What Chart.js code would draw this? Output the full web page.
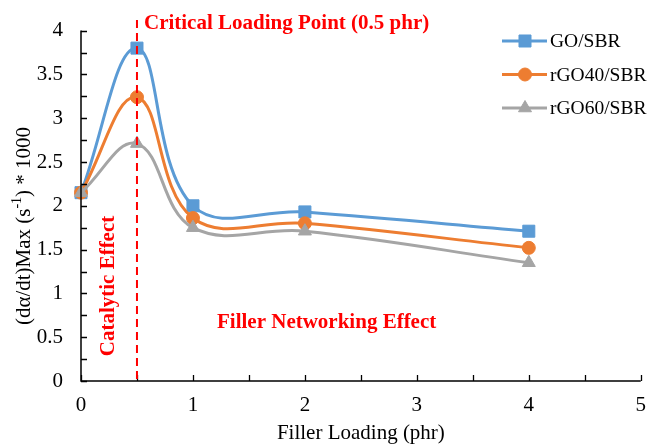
<!DOCTYPE html>
<html>
<head>
<meta charset="utf-8">
<script src="https://cdn.jsdelivr.net/npm/chart.js@4"></script>
<style>
  html, body { margin: 0; padding: 0; background: #fff; }
  canvas { display: block; }
</style>
</head>
<body>
<canvas id="chart" width="658" height="445"></canvas>
<script>
// filler loading (phr)
const loading = [0, 0.5, 1, 2, 4];

const goSbr = [2.15, 3.8, 2.0, 1.93, 1.71];
const rgo40Sbr = [2.15, 3.24, 1.86, 1.80, 1.52];
const rgo60Sbr = [2.15, 2.71, 1.75, 1.71, 1.35];

const xTicks = [0, 1, 2, 3, 4, 5];
const yTicks = [0, 0.5, 1, 1.5, 2, 2.5, 3, 3.5, 4];
const xMinor = [0.5, 1.5, 2.5, 3.5, 4.5];
const yMinor = [0.25, 0.75, 1.25, 1.75, 2.25, 2.75, 3.25, 3.75];

const criticalX = 0.5;

const RED = "#ff0000";
const SERIF = "'Liberation Serif', 'Times New Roman', serif";

function pts(ys) {
  return loading.map((x, i) => ({ x: x, y: ys[i] }));
}

// y title with superscript, pieces drawn one after another
function drawYTitle(ctx, cx, cy) {
  const parts = [
    { t: "(dα/dt)Max (s", f: "21px " + SERIF, dy: 0 },
    { t: "-1", f: "14px " + SERIF, dy: -7 },
    { t: ") * 1000", f: "21px " + SERIF, dy: 0 }
  ];
  let total = 0;
  parts.forEach(p => { ctx.font = p.f; p.w = ctx.measureText(p.t).width; total += p.w; });
  ctx.save();
  ctx.translate(cx, cy);
  ctx.rotate(-Math.PI / 2);
  ctx.fillStyle = "#000";
  ctx.textAlign = "left";
  ctx.textBaseline = "middle";
  let x = -total / 2;
  parts.forEach(p => {
    ctx.font = p.f;
    ctx.fillText(p.t, x, p.dy);
    x += p.w;
  });
  ctx.restore();
}

// axis lines, inward ticks, dashed marker line, red notes, legend
const extras = {
  id: "extras",
  afterDatasetsDraw(chart) {
    const ctx = chart.ctx;
    const xs = chart.scales.x;
    const ys = chart.scales.y;
    const area = chart.chartArea;
    ctx.save();

    // axes
    ctx.strokeStyle = "#000";
    ctx.lineWidth = 1.5;
    ctx.beginPath();
    ctx.moveTo(area.left, area.top);
    ctx.lineTo(area.left, area.bottom);
    ctx.lineTo(area.right, area.bottom);
    ctx.stroke();

    ctx.lineWidth = 1.3;
    ctx.beginPath();
    xTicks.concat(xMinor).forEach(v => {
      const px = Math.round(xs.getPixelForValue(v)) + 0.5;
      ctx.moveTo(px, area.bottom);
      ctx.lineTo(px, area.bottom - 6);
    });
    yTicks.concat(yMinor).forEach(v => {
      const py = Math.round(ys.getPixelForValue(v)) + 0.5;
      ctx.moveTo(area.left, py);
      ctx.lineTo(area.left + 6, py);
    });
    ctx.stroke();

    drawYTitle(ctx, 24, 226);

    // critical loading line
    const cx = xs.getPixelForValue(criticalX);
    ctx.strokeStyle = RED;
    ctx.lineWidth = 2;
    ctx.setLineDash([8, 5]);
    ctx.beginPath();
    ctx.moveTo(cx, 20);
    ctx.lineTo(cx, area.bottom);
    ctx.stroke();
    ctx.setLineDash([]);

    // notes
    ctx.fillStyle = RED;
    ctx.font = "bold 21px " + SERIF;
    ctx.textBaseline = "middle";
    ctx.textAlign = "left";
    ctx.fillText("Critical Loading Point (0.5 phr)", cx + 7, 24);
    ctx.fillText("Filler Networking Effect", 217, 323);

    ctx.save();
    ctx.translate(109, 286);
    ctx.rotate(-Math.PI / 2);
    ctx.textAlign = "center";
    ctx.fillText("Catalytic Effect", 0, 0);
    ctx.restore();

    // legend
    ctx.font = "19.5px " + SERIF;
    ctx.textAlign = "left";
    chart.data.datasets.forEach((ds, i) => {
      const ly = 41 + i * 33.5;
      ctx.strokeStyle = ds.borderColor;
      ctx.lineWidth = 3;
      ctx.beginPath();
      ctx.moveTo(502, ly);
      ctx.lineTo(547, ly);
      ctx.stroke();
      ctx.fillStyle = ds.backgroundColor;
      ctx.strokeStyle = ds.borderColor;
      ctx.lineWidth = 1;
      Chart.helpers.drawPoint(ctx, {
        pointStyle: ds.pointStyle,
        radius: ds.pointRadius,
        borderWidth: 1
      }, 525, ly);
      ctx.fillStyle = "#000";
      ctx.fillText(ds.label, 550, ly + 1);
    });

    ctx.restore();
  }
};

function series(label, data, color, style, radius, order) {
  return {
    label: label,
    data: pts(data),
    borderColor: color,
    backgroundColor: color,
    borderWidth: 3,
    pointStyle: style,
    pointRadius: radius,
    pointHoverRadius: radius,
    pointBorderWidth: 1,
    tension: 0.4,
    clip: false,
    order: order
  };
}

new Chart(document.getElementById("chart"), {
  type: "line",
  data: {
    datasets: [
      series("GO/SBR", goSbr, "#5b9bd5", "rect", 8.5, 2),
      series("rGO40/SBR", rgo40Sbr, "#ed7d31", "circle", 6.5, 1),
      series("rGO60/SBR", rgo60Sbr, "#a5a5a5", "triangle", 7.5, 0)
    ]
  },
  options: {
    responsive: false,
    animation: false,
    devicePixelRatio: 1,
    layout: { padding: { left: 0, top: 30, right: 6, bottom: 0 } },
    plugins: {
      legend: { display: false },
      tooltip: { enabled: false }
    },
    scales: {
      x: {
        type: "linear",
        min: 0,
        max: 5,
        afterBuildTicks: s => { s.ticks = xTicks.map(v => ({ value: v })); },
        afterFit: s => { s.height = 64; },
        grid: { display: false, drawTicks: false },
        border: { display: false },
        ticks: {
          padding: 12,
          color: "#000",
          font: { family: SERIF, size: 21 },
          callback: v => String(v)
        },
        title: {
          display: true,
          text: "Filler Loading (phr)",
          color: "#000",
          font: { family: SERIF, size: 21 },
          padding: { top: 0, bottom: -1 }
        }
      },
      y: {
        min: 0,
        max: 4,
        afterBuildTicks: s => { s.ticks = yTicks.map(v => ({ value: v })); },
        afterFit: s => { s.width = 81; },
        grid: { display: false, drawTicks: false },
        border: { display: false },
        ticks: {
          padding: 18,
          color: "#000",
          font: { family: SERIF, size: 21 },
          callback: v => String(v)
        }
      }
    }
  },
  plugins: [extras]
});
</script>
</body>
</html>
